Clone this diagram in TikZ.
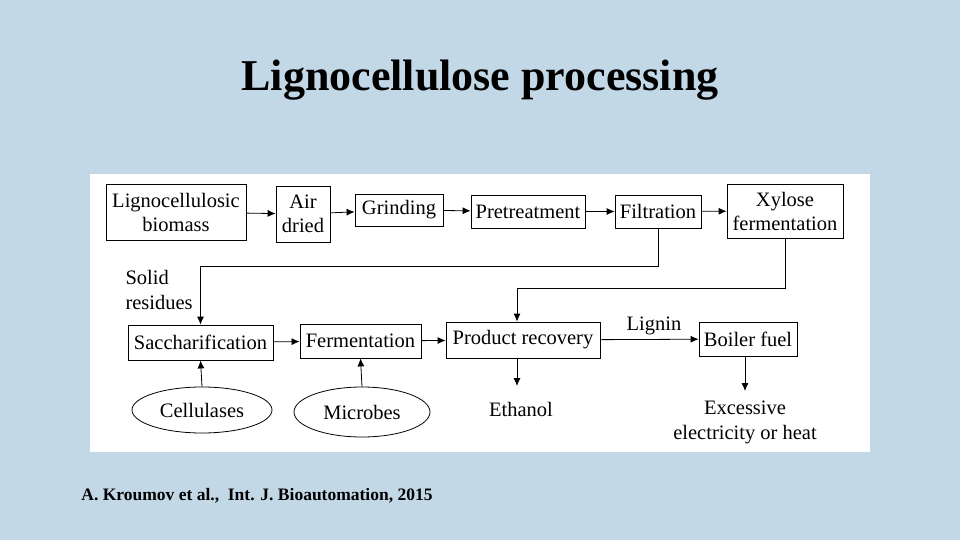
\documentclass[tikz,border=0pt]{standalone}
\usepackage{fontspec}
\setmainfont{Liberation Serif}
\usetikzlibrary{shapes.geometric,arrows.meta}
\definecolor{bgc}{HTML}{C3D8E6}
\begin{document}
\begin{tikzpicture}[x=1pt,y=-1pt,
  box/.style={draw,line width=0.8pt,fill=white,font=\fontsize{20.5}{24}\selectfont,align=center,inner sep=0pt},
  ell/.style={draw,ellipse,line width=0.8pt,fill=white,font=\fontsize{20.5}{24}\selectfont,inner sep=0pt},
  lab/.style={font=\fontsize{20.5}{25}\selectfont,align=center},
  arr/.style={line width=0.8pt,-{Latex[length=8pt,width=7pt]}}]
\fill[bgc] (0,0) rectangle (960,540);
\useasboundingbox (0,0) rectangle (960,540);
\fill[white] (90,174) rectangle (870,452);
\node[font=\bfseries\fontsize{44}{46}\selectfont] (title) at (480,80) {Lignocellulose processing};
\node[font=\bfseries\fontsize{17.5}{19}\selectfont] (cite) at (257,496) {A. Kroumov et al.,\ \ Int. J. Bioautomation, 2015};
\node[box,minimum width=140,minimum height=56] (lb) at (176,212) {Lignocellulosic\\biomass};
\node[box,minimum width=54,minimum height=56] (ad) at (303,214) {Air\\dried};
\node[box,minimum width=88,minimum height=32] (gr) at (399,210) {Grinding};
\node[box,minimum width=114,minimum height=33] (pt) at (528,211.5) {Pretreatment};
\node[box,minimum width=86,minimum height=33] (fi) at (658,211.5) {Filtration};
\node[box,minimum width=116,minimum height=54] (xf) at (785,211) {Xylose\\fermentation};
\node[box,minimum width=145,minimum height=35] (sa) at (200.5,342.5) {Saccharification};
\node[box,minimum width=121,minimum height=34] (fe) at (360.5,341) {Fermentation};
\node[box,minimum width=154,minimum height=36] (pr) at (523,340) {Product recovery};
\node[box,minimum width=98,minimum height=34] (bf) at (748,339) {Boiler fuel};
\node[ell,minimum width=140,minimum height=46] (ce) at (202,410) {Cellulases};
\node[ell,minimum width=136,minimum height=50] (mi) at (362,412) {Microbes};
\node[lab,align=left,anchor=west] (sr) at (122,290) {Solid\\residues};
\node[lab] (et) at (521,409) {Ethanol};
\node[lab] (li) at (654,326) {Lignin};
\node[lab] (ex) at (745,422) {Excessive\\electricity or heat};
\coordinate (ee) at (517,386);
\coordinate (xe) at (745,391);
\draw[arr] (lb) -- (ad);
\draw[arr] (ad) -- (gr);
\draw[arr] (gr) -- (pt);
\draw[arr] (pt) -- (fi);
\draw[arr] (fi) -- (xf);
\draw[arr] (fi.south) -- ++(0,38) -| (sa.north);
\draw[arr] (xf.south) -- ++(0,50) -| ([xshift=-6pt]pr.north);
\draw[arr] (sa) -- (fe);
\draw[arr] (fe) -- (pr);
\draw[arr] (pr) -- (bf);
\draw[arr] (ce.north) -- (sa.south);
\draw[arr] (mi.north) -- (fe.south);
\draw[arr] ([xshift=-6pt]pr.south) -- (ee);
\draw[arr] (bf.south -| xe) -- (xe);
\end{tikzpicture}
\end{document}
